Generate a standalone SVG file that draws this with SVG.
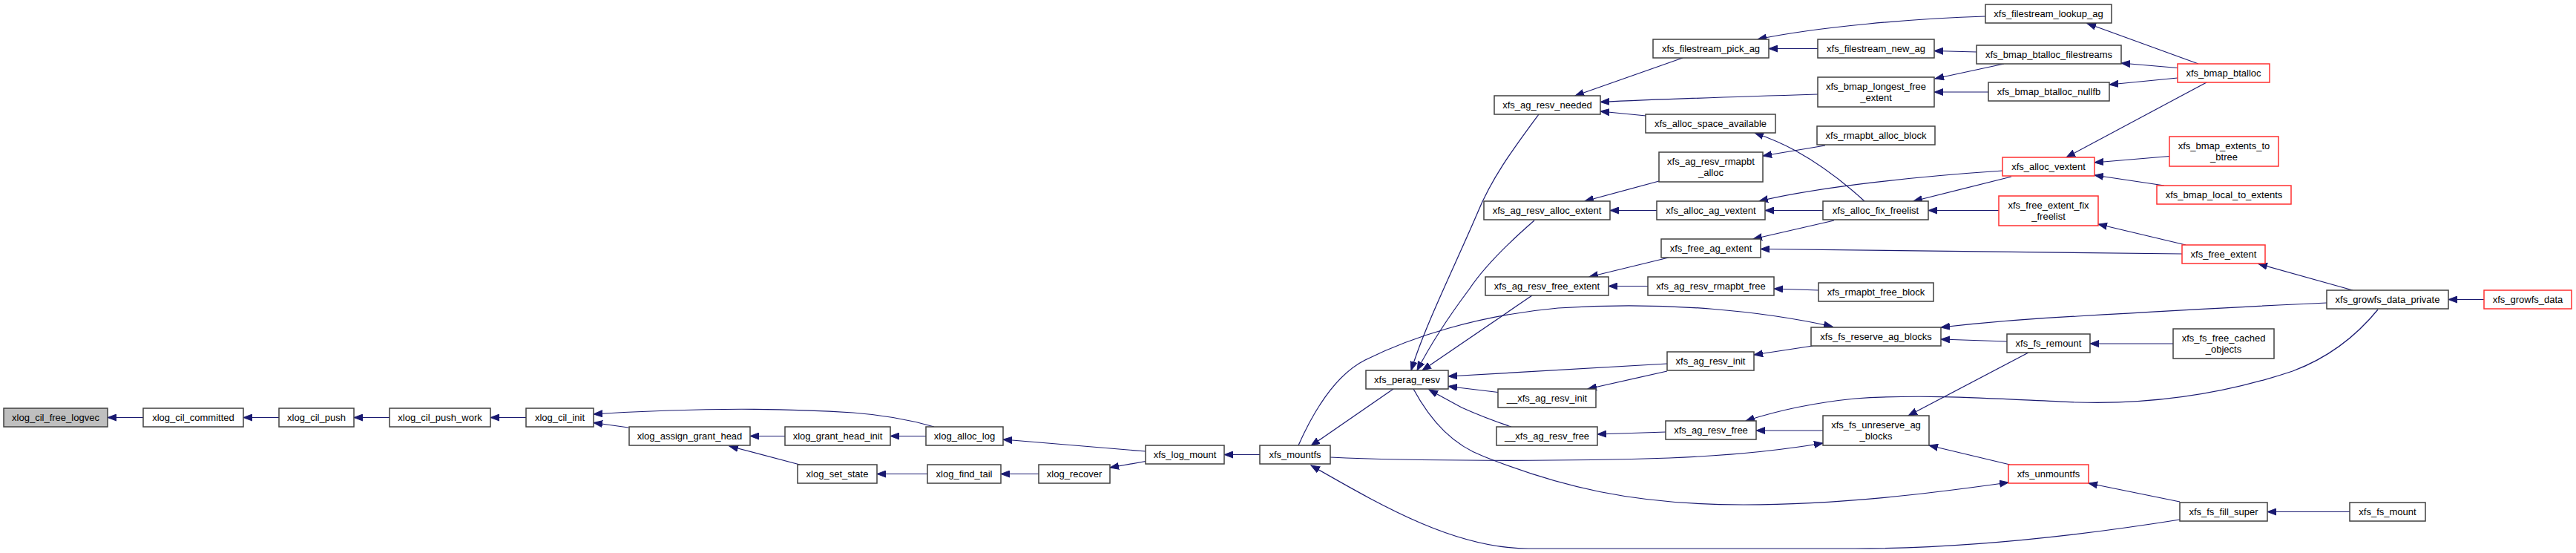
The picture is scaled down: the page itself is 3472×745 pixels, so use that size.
<svg xmlns="http://www.w3.org/2000/svg" width="3472" height="745" viewBox="0 0 3472 745">
<style>
.n rect{fill:#ffffff;stroke:#404040;stroke-width:1.5}
.n.r rect{stroke:#ff3030}
.n.g rect{fill:#bfbfbf}
.n text{font-family:"Liberation Sans",Arial,sans-serif;font-size:13px;fill:#000;text-anchor:middle}
#edges path{fill:none;stroke:#191970;stroke-width:1.2;marker-end:url(#ah)}
</style>
<defs>
<marker id="ah" markerWidth="14" markerHeight="10" refX="12" refY="5" orient="auto" markerUnits="userSpaceOnUse">
<path d="M0,0.5 L12,5 L0,9.5 z" fill="#191970" stroke="#191970" stroke-width="1"/>
</marker>
</defs>
<rect width="3472" height="745" fill="#ffffff"/>
<g id="edges">
<path d="M193,562.5 L145,562.5"/>
<path d="M376,562.5 L328,562.5"/>
<path d="M525,562.5 L477,562.5"/>
<path d="M709,562.5 L661,562.5"/>
<path d="M1259,575 C1225,565 1190,559 1150,556 C1060,550 940,549 800,558"/>
<path d="M847,576 L800,569.5"/>
<path d="M1058,587.5 L1011,587.5"/>
<path d="M1078,626 L983,601"/>
<path d="M1248,587.5 L1200,587.5"/>
<path d="M1250,638.5 L1182,638.5"/>
<path d="M1400,638.5 L1349,638.5"/>
<path d="M1544,608 L1352,592"/>
<path d="M1544,621.5 L1496,630"/>
<path d="M1698,612.5 L1650,612.5"/>
<path d="M1878,524 L1767,600.5"/>
<path d="M2938,700 C2800,722 2650,739 2500,739 L2060,739 C1960,739 1860,680 1767,627"/>
<path d="M2074,154 C2040,200 2010,240 1990,290 C1960,360 1920,440 1902,499"/>
<path d="M2068,297 C2030,330 2000,360 1980,390 C1950,430 1925,470 1910,499"/>
<path d="M2065,398 L1917,499"/>
<path d="M2247,490 L1952,507"/>
<path d="M2019,528.5 L1952,520.5"/>
<path d="M2037,575 C2010,566 1990,558 1970,549 L1926,525"/>
<path d="M1905,524 C1930,570 1960,600 2000,615 C2100,655 2200,680 2350,680 C2480,680 2600,665 2707,650"/>
<path d="M1750,600 C1770,555 1800,505 1840,485 C1900,455 1990,425 2100,415 C2250,405 2380,420 2470,440"/>
<path d="M1793,616 C1900,621 2100,622 2250,617 C2350,613 2410,605 2457,597"/>
<path d="M3205,417 C3170,460 3130,485 3090,500 C3000,530 2900,545 2800,542 C2700,538 2600,530 2500,537 C2440,543 2390,555 2353,567"/>
<path d="M2734,475 L2572,560"/>
<path d="M2705,460 L2616,457"/>
<path d="M3136,408 C3000,414 2900,420 2800,426 C2720,430 2670,435 2616,441"/>
<path d="M2443,466 L2364,478"/>
<path d="M2457,580 L2367,580"/>
<path d="M2709,626 L2600,600"/>
<path d="M2938,676 L2815,651"/>
<path d="M2929,463 L2817,463"/>
<path d="M2451,391 L2391,389"/>
<path d="M3348,403.5 L3300,403.5"/>
<path d="M3167,689.5 L3056,689.5"/>
<path d="M3171,391 L3044,355.5"/>
<path d="M2221,385.5 L2168,385.5"/>
<path d="M2245,582 L2153,585"/>
<path d="M2247,500 L2140,524"/>
<path d="M2268,78 L2123,129"/>
<path d="M2450,127 C2350,130 2250,133 2157,137.5"/>
<path d="M2218.5,156 L2157,150"/>
<path d="M2236,244 L2136,271"/>
<path d="M2233,283.5 L2170,283.5"/>
<path d="M2249,347 L2142,373"/>
<path d="M2676,22 C2580,25 2450,36 2369,53"/>
<path d="M2450,65.5 L2384,65.5"/>
<path d="M2664,70 L2607,68.5"/>
<path d="M2701,86 L2608,106"/>
<path d="M2680,124 L2607,124"/>
<path d="M2513,271 C2490,250 2460,225 2420,203 C2400,192 2385,186 2365,179"/>
<path d="M2460,196 L2376,210"/>
<path d="M2699,230 C2580,238 2450,252 2371,271"/>
<path d="M2457,283.5 L2379,283.5"/>
<path d="M2472,297 L2363,322"/>
<path d="M2941,342 C2800,341 2600,338 2373,335.5"/>
<path d="M2711,238 L2579,271"/>
<path d="M2694,283.5 L2599,283.5"/>
<path d="M2963,86 L2813,31.5"/>
<path d="M2935,91.5 L2859,85"/>
<path d="M2935,105 L2843,114"/>
<path d="M2974,111 L2785,212"/>
<path d="M2924,210.5 L2823,219"/>
<path d="M2917,250 L2823,236"/>
<path d="M2946,330 L2828,302"/>
</g>
<g id="n_free_logvec" class="n g"><rect x="5" y="550" width="140" height="25"/><text x="75" y="567">xlog_cil_free_logvec</text></g>
<g id="n_committed" class="n"><rect x="193" y="550" width="135" height="25"/><text x="260.5" y="567">xlog_cil_committed</text></g>
<g id="n_push" class="n"><rect x="376" y="550" width="101" height="25"/><text x="426.5" y="567">xlog_cil_push</text></g>
<g id="n_push_work" class="n"><rect x="525" y="550" width="136" height="25"/><text x="593" y="567">xlog_cil_push_work</text></g>
<g id="n_cil_init" class="n"><rect x="709" y="550" width="91" height="25"/><text x="754.5" y="567">xlog_cil_init</text></g>
<g id="n_assign_grant_head" class="n"><rect x="848" y="575" width="163" height="25"/><text x="929.5" y="592">xlog_assign_grant_head</text></g>
<g id="n_grant_head_init" class="n"><rect x="1058" y="575" width="142" height="25"/><text x="1129" y="592">xlog_grant_head_init</text></g>
<g id="n_set_state" class="n"><rect x="1075" y="626" width="107" height="25"/><text x="1128.5" y="643">xlog_set_state</text></g>
<g id="n_alloc_log" class="n"><rect x="1248" y="575" width="104" height="25"/><text x="1300" y="592">xlog_alloc_log</text></g>
<g id="n_find_tail" class="n"><rect x="1250" y="626" width="99" height="25"/><text x="1299.5" y="643">xlog_find_tail</text></g>
<g id="n_recover" class="n"><rect x="1400" y="626" width="96" height="25"/><text x="1448" y="643">xlog_recover</text></g>
<g id="n_log_mount" class="n"><rect x="1544" y="600" width="106" height="25"/><text x="1597" y="617">xfs_log_mount</text></g>
<g id="n_mountfs" class="n"><rect x="1698" y="600" width="95" height="25"/><text x="1745.5" y="617">xfs_mountfs</text></g>
<g id="n_perag_resv" class="n"><rect x="1841" y="499" width="111" height="25"/><text x="1896.5" y="516">xfs_perag_resv</text></g>
<g id="n_ag_resv_needed" class="n"><rect x="2014" y="129" width="143" height="25"/><text x="2085.5" y="146">xfs_ag_resv_needed</text></g>
<g id="n_ag_resv_alloc_extent" class="n"><rect x="2000" y="271" width="170" height="25"/><text x="2085" y="288">xfs_ag_resv_alloc_extent</text></g>
<g id="n_ag_resv_free_extent" class="n"><rect x="2002" y="373" width="166" height="25"/><text x="2085" y="390">xfs_ag_resv_free_extent</text></g>
<g id="n___ag_resv_init" class="n"><rect x="2019" y="524" width="132" height="25"/><text x="2085" y="541">__xfs_ag_resv_init</text></g>
<g id="n___ag_resv_free" class="n"><rect x="2017" y="575" width="136" height="25"/><text x="2085" y="592">__xfs_ag_resv_free</text></g>
<g id="n_filestream_pick_ag" class="n"><rect x="2228" y="53" width="156" height="25"/><text x="2306" y="70">xfs_filestream_pick_ag</text></g>
<g id="n_alloc_space_available" class="n"><rect x="2218" y="154" width="175" height="25"/><text x="2305.5" y="171">xfs_alloc_space_available</text></g>
<g id="n_ag_resv_rmapbt_alloc" class="n"><rect x="2236" y="205" width="140" height="40"/><text x="2306" y="222">xfs_ag_resv_rmapbt</text><text x="2306" y="237">_alloc</text></g>
<g id="n_alloc_ag_vextent" class="n"><rect x="2233" y="271" width="146" height="25"/><text x="2306" y="288">xfs_alloc_ag_vextent</text></g>
<g id="n_free_ag_extent" class="n"><rect x="2239" y="322" width="134" height="25"/><text x="2306" y="339">xfs_free_ag_extent</text></g>
<g id="n_ag_resv_rmapbt_free" class="n"><rect x="2221" y="373" width="170" height="25"/><text x="2306" y="390">xfs_ag_resv_rmapbt_free</text></g>
<g id="n_ag_resv_init" class="n"><rect x="2247" y="474" width="117" height="25"/><text x="2305.5" y="491">xfs_ag_resv_init</text></g>
<g id="n_ag_resv_free" class="n"><rect x="2245" y="567" width="122" height="25"/><text x="2306" y="584">xfs_ag_resv_free</text></g>
<g id="n_filestream_new_ag" class="n"><rect x="2450" y="53" width="157" height="25"/><text x="2528.5" y="70">xfs_filestream_new_ag</text></g>
<g id="n_bmap_longest_free_extent" class="n"><rect x="2450" y="104" width="157" height="40"/><text x="2528.5" y="121">xfs_bmap_longest_free</text><text x="2528.5" y="136">_extent</text></g>
<g id="n_rmapbt_alloc_block" class="n"><rect x="2449" y="170" width="159" height="25"/><text x="2528.5" y="187">xfs_rmapbt_alloc_block</text></g>
<g id="n_alloc_fix_freelist" class="n"><rect x="2457" y="271" width="142" height="25"/><text x="2528" y="288">xfs_alloc_fix_freelist</text></g>
<g id="n_rmapbt_free_block" class="n"><rect x="2451" y="381" width="155" height="25"/><text x="2528.5" y="398">xfs_rmapbt_free_block</text></g>
<g id="n_fs_reserve_ag_blocks" class="n"><rect x="2441" y="441" width="175" height="25"/><text x="2528.5" y="458">xfs_fs_reserve_ag_blocks</text></g>
<g id="n_fs_unreserve_ag_blocks" class="n"><rect x="2457" y="560" width="143" height="40"/><text x="2528.5" y="577">xfs_fs_unreserve_ag</text><text x="2528.5" y="592">_blocks</text></g>
<g id="n_filestream_lookup_ag" class="n"><rect x="2676" y="6" width="170" height="25"/><text x="2761" y="23">xfs_filestream_lookup_ag</text></g>
<g id="n_bmap_btalloc_filestreams" class="n"><rect x="2664" y="61" width="195" height="25"/><text x="2761.5" y="78">xfs_bmap_btalloc_filestreams</text></g>
<g id="n_bmap_btalloc_nullfb" class="n"><rect x="2680" y="111" width="163" height="25"/><text x="2761.5" y="128">xfs_bmap_btalloc_nullfb</text></g>
<g id="n_alloc_vextent" class="n r"><rect x="2699" y="212" width="124" height="25"/><text x="2761" y="229">xfs_alloc_vextent</text></g>
<g id="n_free_extent_fix_freelist" class="n r"><rect x="2694" y="264" width="134" height="40"/><text x="2761" y="281">xfs_free_extent_fix</text><text x="2761" y="296">_freelist</text></g>
<g id="n_fs_remount" class="n"><rect x="2705" y="450" width="112" height="25"/><text x="2761" y="467">xfs_fs_remount</text></g>
<g id="n_unmountfs" class="n r"><rect x="2707" y="626" width="108" height="25"/><text x="2761" y="643">xfs_unmountfs</text></g>
<g id="n_bmap_btalloc" class="n r"><rect x="2935" y="86" width="124" height="25"/><text x="2997" y="103">xfs_bmap_btalloc</text></g>
<g id="n_bmap_extents_to_btree" class="n r"><rect x="2924" y="184" width="147" height="40"/><text x="2997.5" y="201">xfs_bmap_extents_to</text><text x="2997.5" y="216">_btree</text></g>
<g id="n_bmap_local_to_extents" class="n r"><rect x="2907" y="250" width="181" height="25"/><text x="2997.5" y="267">xfs_bmap_local_to_extents</text></g>
<g id="n_free_extent" class="n r"><rect x="2941" y="330" width="112" height="25"/><text x="2997" y="347">xfs_free_extent</text></g>
<g id="n_fs_free_cached_objects" class="n"><rect x="2929" y="443" width="136" height="40"/><text x="2997" y="460">xfs_fs_free_cached</text><text x="2997" y="475">_objects</text></g>
<g id="n_fs_fill_super" class="n"><rect x="2938" y="677" width="118" height="25"/><text x="2997" y="694">xfs_fs_fill_super</text></g>
<g id="n_growfs_data_private" class="n"><rect x="3136" y="391" width="164" height="25"/><text x="3218" y="408">xfs_growfs_data_private</text></g>
<g id="n_fs_mount" class="n"><rect x="3167" y="677" width="102" height="25"/><text x="3218" y="694">xfs_fs_mount</text></g>
<g id="n_growfs_data" class="n r"><rect x="3348" y="391" width="118" height="25"/><text x="3407" y="408">xfs_growfs_data</text></g>
</svg>
